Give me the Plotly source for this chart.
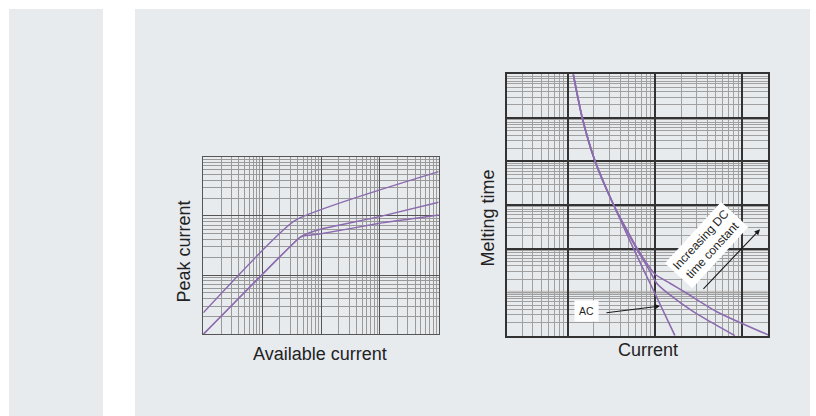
import plotly.graph_objects as go

W, H = 816, 416

# ---- Left chart: peak let-through current vs available current ----
avail_a = [1, 35.8, 10000]
peak_a = [2.32, 83, 558]
avail_b_upper = [1, 42, 50, 95, 990, 10000]
peak_b_upper = [1, 42, 47, 59, 97, 170]
avail_b_lower = [1, 42, 50, 95, 990, 10000]
peak_b_lower = [1, 42, 45.7, 49.4, 75, 103.5]

# ---- Right chart: melting time vs current ----
ac_current = [11.6, 14.7, 20.6, 33.4, 56.9, 99, 170]
ac_time = [10000, 1007, 102, 10.4, 1.0, 0.098, 0.01]
dc1_current = [11.6, 14.7, 20.6, 33.4, 61.5, 84.1, 105, 149, 276, 430, 830]
dc1_time = [10000, 1007, 102, 10.4, 1.0, 0.352, 0.160, 0.086, 0.0356, 0.021, 0.01]
dc2_current = [11.6, 14.7, 20.6, 33.4, 63, 80.7, 100.5, 149, 232, 512, 2000]
dc2_time = [10000, 1007, 102, 10.4, 1.0, 0.459, 0.257, 0.160, 0.094, 0.0356, 0.0104]
# major grid levels of the time axis (the 0.1 line is faded in the original)
time_major = [0.01, 1, 10, 100, 1000, 10000]

PURPLE = "#8c6bae"
TXT = "#222222"
FONT = "Liberation Sans, Arial, sans-serif"
PANEL = "#e8ebee"


def px(x):
    return x / W


def py(y):
    return 1 - y / H


fig = go.Figure()

line_style = dict(color=PURPLE, width=1.4)
for xs, ys in [(avail_a, peak_a), (avail_b_upper, peak_b_upper), (avail_b_lower, peak_b_lower)]:
    fig.add_trace(go.Scatter(x=xs, y=ys, mode="lines", line=dict(**line_style, shape="spline", smoothing=0.4),
                             xaxis="x", yaxis="y", showlegend=False, hoverinfo="skip"))
for xs, ys in [(ac_current, ac_time), (dc1_current, dc1_time), (dc2_current, dc2_time)]:
    fig.add_trace(go.Scatter(x=xs, y=ys, mode="lines", line=dict(color=PURPLE, width=1.6, shape="spline", smoothing=0.6),
                             xaxis="x2", yaxis="y2", showlegend=False, hoverinfo="skip"))


def log_axis(rng, dom, major, minor, anchor, lw=1.2, linecolor=None):
    return dict(
        type="log", range=rng, domain=dom, anchor=anchor,
        showticklabels=False, ticks="", dtick=1,
        showgrid=True, gridcolor=major, gridwidth=lw,
        minor=dict(dtick="D1", showgrid=True, gridcolor=minor, gridwidth=1, ticks=""),
        showline=True, mirror=True, linecolor=linecolor or major, linewidth=lw,
        zeroline=False, fixedrange=True,
    )


yaxis2 = log_axis([-2, 4], [py(335.7), py(74.3)], "#333333", "#a0a0a0", "x2", lw=1.5)
yaxis2.update(tickmode="array", tickvals=time_major)

fig.update_layout(
    width=W, height=H, autosize=False,
    margin=dict(l=0, r=0, t=0, b=0),
    paper_bgcolor="white", plot_bgcolor="rgba(0,0,0,0)",
    showlegend=False,
    font=dict(family=FONT, color=TXT),
    xaxis=log_axis([0, 4], [px(203.3), px(438.7)], "#555555", "#999999", "y", lw=1.3),
    yaxis=log_axis([0, 3], [py(334.3), py(156.7)], "#555555", "#999999", "x", lw=1.3),
    xaxis2=log_axis([0.30103, 3.30103], [px(506.7), px(768.3)], "#333333", "#a0a0a0", "y2", lw=1.5),
    yaxis2=yaxis2,
    shapes=[
        dict(type="rect", xref="paper", yref="paper", x0=px(9), x1=px(103), y0=0, y1=py(9),
             fillcolor=PANEL, line=dict(width=0), layer="below"),
        dict(type="rect", xref="paper", yref="paper", x0=px(135), x1=px(810), y0=0, y1=py(9),
             fillcolor=PANEL, line=dict(width=0), layer="below"),
        dict(type="line", xref="x2 domain", yref="y2 domain", x0=0.003, x1=0.997, y0=1 / 6, y1=1 / 6,
             line=dict(color="#c6c6c6", width=3), layer="below"),
    ],
)


def label(text, x, y, size, angle=0, **kw):
    return dict(text=text, x=px(x), y=py(y), xref="paper", yref="paper", showarrow=False,
                xanchor="center", yanchor="middle", textangle=angle,
                font=dict(size=size, color=TXT, family=FONT), **kw)


ann = [
    label("Available current", 320, 354, 18),
    label("Peak current", 183.5, 252, 18, angle=-90),
    label("Current", 647.5, 349.5, 18),
    label("Melting time", 487.5, 218, 18, angle=-90),
    label("AC", 586.5, 311, 10.5, bgcolor="white", borderpad=4),
    label("Increasing DC<br>time constant", 707, 245.5, 12, angle=-47.5, bgcolor="white", borderpad=3),
    dict(text="", x=px(660), y=py(306), xref="paper", yref="paper", showarrow=True,
         ax=-55, ay=7, arrowhead=2, arrowsize=1, arrowwidth=1.1, arrowcolor="#1a1a1a"),
    dict(text="", x=px(760), y=py(229.3), xref="paper", yref="paper", showarrow=True,
         ax=-58, ay=61, arrowhead=2, arrowsize=1, arrowwidth=1.1, arrowcolor="#1a1a1a"),
]
fig.update_layout(annotations=ann)

fig.write_html("out.html", config={"displayModeBar": False},
               post_script="document.body.style.margin='0';document.body.style.overflow='hidden';")
